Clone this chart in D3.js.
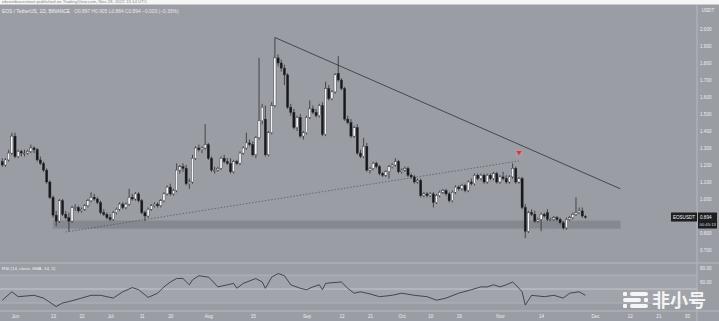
<!DOCTYPE html>
<html>
<head>
<meta charset="utf-8">
<script src="https://cdn.jsdelivr.net/npm/d3@7"></script>
<style>
  html, body { margin: 0; padding: 0; background: #9b9da5; }
  svg { display: block; font-family: "Liberation Sans", Arial, sans-serif; }
</style>
</head>
<body>
<svg id="chart" width="719" height="321"></svg>
<script>
// daily candles EOS/USDT, first day 2022-05-28
const startDay = "2022-05-28";
const opens = [
  1.22, 1.20, 1.23, 1.27,
  1.37, 1.25, 1.28, 1.27, 1.27, 1.28, 1.30, 1.29, 1.23, 1.21, 1.17, 1.10, 1.01, 0.905, 0.87, 0.99, 0.91, 0.89, 0.87, 0.95, 0.95, 0.93, 0.94, 0.96, 0.99, 1.01, 1.00, 0.98, 0.92, 0.91,
  0.89, 0.88, 0.92, 0.94, 0.97, 0.95, 0.97, 1.01, 1.00, 1.03, 0.99, 0.92, 0.90, 0.94, 0.96, 0.97, 0.96, 0.99, 1.03, 1.07, 1.03, 1.05, 1.17, 1.19, 1.18, 1.09, 1.10, 1.24, 1.30, 1.29, 1.30,
  1.32, 1.24, 1.17, 1.17, 1.18, 1.24, 1.22, 1.21, 1.16, 1.22, 1.21, 1.27, 1.30, 1.33, 1.32, 1.26, 1.36, 1.46, 1.47, 1.26, 1.39, 1.55, 1.83, 1.80, 1.77, 1.73, 1.54, 1.51, 1.42, 1.48, 1.37,
  1.39, 1.48, 1.53, 1.51, 1.49, 1.55, 1.38, 1.65, 1.59, 1.63, 1.74, 1.70, 1.65, 1.47, 1.45, 1.37, 1.42, 1.27, 1.25, 1.31, 1.17, 1.18, 1.21, 1.19, 1.15, 1.14, 1.16, 1.19, 1.20, 1.22,
  1.16, 1.17, 1.18, 1.14, 1.13, 1.10, 1.11, 1.02, 1.03, 1.02, 1.03, 0.98, 1.02, 1.04, 1.05, 1.03, 0.99, 1.04, 1.07, 1.06, 1.08, 1.05, 1.10, 1.09, 1.14, 1.12, 1.14, 1.10, 1.14, 1.12, 1.15,
  1.10, 1.13, 1.12, 1.10, 1.13, 1.18, 1.10, 1.12, 0.95, 0.81, 0.92, 0.91, 0.87, 0.88, 0.91, 0.92, 0.88, 0.88, 0.89, 0.88, 0.86, 0.83, 0.88, 0.89, 0.91, 0.92, 0.93, 0.897
];
const highs = [
  1.24, 1.24, 1.29, 1.39,
  1.39, 1.29, 1.29, 1.29, 1.29, 1.32, 1.31, 1.30, 1.25, 1.22, 1.18, 1.11, 1.02, 0.93, 1.00, 1.00, 0.93, 0.92, 0.96, 0.97, 0.96, 0.95, 0.97, 1.00, 1.04, 1.03, 1.01, 0.99, 0.94, 0.92,
  0.91, 0.93, 0.95, 0.98, 0.98, 0.98, 1.06, 1.03, 1.04, 1.04, 1.00, 0.93, 0.95, 0.97, 0.98, 0.98, 1.00, 1.04, 1.08, 1.09, 1.06, 1.21, 1.20, 1.21, 1.20, 1.12, 1.26, 1.31, 1.32, 1.31, 1.44,
  1.33, 1.25, 1.19, 1.19, 1.25, 1.26, 1.24, 1.24, 1.23, 1.23, 1.28, 1.31, 1.39, 1.35, 1.34, 1.37, 1.83, 1.56, 1.55, 1.40, 1.57, 1.95, 1.85, 1.82, 1.79, 1.74, 1.56, 1.53, 1.49, 1.50, 1.40,
  1.49, 1.58, 1.55, 1.53, 1.56, 1.57, 1.69, 1.67, 1.64, 1.74, 1.84, 1.71, 1.66, 1.49, 1.47, 1.43, 1.44, 1.29, 1.36, 1.33, 1.19, 1.22, 1.22, 1.20, 1.16, 1.17, 1.20, 1.21, 1.24, 1.23,
  1.18, 1.19, 1.19, 1.15, 1.14, 1.12, 1.12, 1.04, 1.04, 1.04, 1.04, 1.03, 1.05, 1.06, 1.06, 1.04, 1.05, 1.08, 1.08, 1.09, 1.09, 1.11, 1.12, 1.15, 1.15, 1.15, 1.15, 1.15, 1.15, 1.16, 1.16,
  1.14, 1.16, 1.14, 1.14, 1.21, 1.19, 1.13, 1.13, 0.97, 0.93, 0.94, 0.93, 0.89, 0.92, 0.92, 0.94, 0.89, 0.90, 0.90, 0.89, 0.87, 0.89, 0.90, 0.92, 1.01, 0.95, 0.95, 0.905
];
const lows = [
  1.19, 1.19, 1.22, 1.26,
  1.24, 1.24, 1.25, 1.25, 1.26, 1.27, 1.27, 1.22, 1.20, 1.16, 1.09, 1.00, 0.89, 0.84, 0.86, 0.90, 0.88, 0.81, 0.86, 0.93, 0.92, 0.92, 0.93, 0.95, 0.98, 0.99, 0.97, 0.91, 0.90, 0.88,
  0.87, 0.87, 0.91, 0.93, 0.94, 0.94, 0.96, 0.99, 0.99, 0.98, 0.91, 0.87, 0.89, 0.93, 0.95, 0.95, 0.95, 0.98, 1.02, 1.02, 1.02, 1.04, 1.15, 1.16, 1.08, 1.06, 1.09, 1.23, 1.28, 1.27, 1.29,
  1.23, 1.16, 1.15, 1.16, 1.17, 1.21, 1.20, 1.15, 1.15, 1.20, 1.20, 1.26, 1.29, 1.31, 1.25, 1.24, 1.35, 1.44, 1.25, 1.25, 1.38, 1.54, 1.78, 1.75, 1.67, 1.53, 1.49, 1.41, 1.40, 1.36, 1.35,
  1.38, 1.47, 1.50, 1.48, 1.48, 1.37, 1.37, 1.58, 1.58, 1.62, 1.69, 1.64, 1.46, 1.44, 1.36, 1.36, 1.26, 1.24, 1.24, 1.16, 1.15, 1.17, 1.18, 1.14, 1.13, 1.13, 1.12, 1.18, 1.19, 1.15,
  1.15, 1.16, 1.13, 1.12, 1.09, 1.09, 1.01, 1.01, 1.01, 1.01, 0.95, 0.97, 1.01, 1.03, 1.02, 0.98, 0.98, 1.03, 1.05, 1.05, 1.04, 1.04, 1.08, 1.08, 1.11, 1.11, 1.09, 1.09, 1.11, 1.11, 1.09,
  1.09, 1.11, 1.09, 1.09, 1.12, 1.09, 1.09, 0.94, 0.77, 0.80, 0.90, 0.86, 0.86, 0.81, 0.89, 0.87, 0.87, 0.87, 0.87, 0.85, 0.82, 0.82, 0.87, 0.88, 0.90, 0.91, 0.89, 0.884
];
const closes = [
  1.20, 1.23, 1.27, 1.37,
  1.25, 1.28, 1.27, 1.27, 1.28, 1.30, 1.29, 1.23, 1.21, 1.17, 1.10, 1.01, 0.905, 0.87, 0.99, 0.91, 0.89, 0.87, 0.95, 0.95, 0.93, 0.94, 0.96, 0.99, 1.01, 1.00, 0.98, 0.92, 0.91, 0.89,
  0.88, 0.92, 0.94, 0.97, 0.95, 0.97, 1.01, 1.00, 1.03, 0.99, 0.92, 0.90, 0.94, 0.96, 0.97, 0.96, 0.99, 1.03, 1.07, 1.03, 1.05, 1.17, 1.19, 1.18, 1.09, 1.10, 1.24, 1.30, 1.29, 1.30, 1.32,
  1.24, 1.17, 1.17, 1.18, 1.24, 1.22, 1.21, 1.16, 1.22, 1.21, 1.27, 1.30, 1.33, 1.32, 1.26, 1.36, 1.46, 1.54, 1.26, 1.39, 1.55, 1.83, 1.80, 1.77, 1.73, 1.54, 1.51, 1.42, 1.48, 1.37, 1.39,
  1.48, 1.53, 1.51, 1.49, 1.55, 1.38, 1.65, 1.59, 1.63, 1.73, 1.70, 1.65, 1.47, 1.45, 1.37, 1.42, 1.27, 1.25, 1.31, 1.17, 1.18, 1.21, 1.19, 1.15, 1.14, 1.16, 1.19, 1.20, 1.22, 1.16,
  1.17, 1.18, 1.14, 1.13, 1.10, 1.11, 1.02, 1.03, 1.02, 1.03, 0.98, 1.02, 1.04, 1.05, 1.03, 0.99, 1.04, 1.07, 1.06, 1.08, 1.05, 1.10, 1.09, 1.14, 1.12, 1.14, 1.10, 1.14, 1.12, 1.15, 1.10,
  1.13, 1.12, 1.10, 1.13, 1.18, 1.10, 1.12, 0.95, 0.81, 0.92, 0.91, 0.87, 0.88, 0.91, 0.90, 0.88, 0.88, 0.89, 0.88, 0.86, 0.83, 0.88, 0.89, 0.91, 0.92, 0.93, 0.90, 0.894
];

// RSI(14)
const rsiDates = [
  "2022-05-28", "2022-05-31", "2022-06-02", "2022-06-07", "2022-06-10", "2022-06-14", "2022-06-16", "2022-06-18",
  "2022-06-22", "2022-06-25", "2022-06-28", "2022-07-02", "2022-07-05", "2022-07-08", "2022-07-10", "2022-07-13",
  "2022-07-16", "2022-07-18", "2022-07-20", "2022-07-22", "2022-07-24", "2022-07-26", "2022-07-27", "2022-07-29",
  "2022-08-01", "2022-08-02", "2022-08-04", "2022-08-07", "2022-08-09", "2022-08-10", "2022-08-12", "2022-08-16",
  "2022-08-18", "2022-08-19", "2022-08-21", "2022-08-23", "2022-08-25", "2022-08-27", "2022-08-30", "2022-09-01",
  "2022-09-03", "2022-09-05", "2022-09-06", "2022-09-07", "2022-09-09", "2022-09-12", "2022-09-14", "2022-09-16",
  "2022-09-18", "2022-09-21", "2022-09-24", "2022-09-28", "2022-10-01", "2022-10-05", "2022-10-09", "2022-10-12",
  "2022-10-15", "2022-10-19", "2022-10-23", "2022-10-26", "2022-10-28", "2022-10-30", "2022-11-01", "2022-11-03",
  "2022-11-05", "2022-11-06", "2022-11-08", "2022-11-09", "2022-11-10", "2022-11-11", "2022-11-15", "2022-11-18",
  "2022-11-21", "2022-11-23", "2022-11-26", "2022-11-28"
];
const rsiValues = [
  34, 46, 39, 41, 37, 25, 30, 32,
  37, 41, 41, 37, 46, 52, 49, 38,
  44, 53, 60, 65, 65, 56, 63, 69,
  67, 63, 53, 56, 58, 51, 58, 65,
  60, 51, 67, 72, 69, 56, 51, 49,
  53, 56, 49, 58, 59, 60, 51, 44,
  46, 43, 39, 41, 44, 41, 39, 34,
  37, 44, 49, 53, 53, 56, 53, 56,
  60, 56, 46, 27, 34, 41, 39, 41,
  37, 44, 46, 41
];

const priceTicks = [2.0, 1.9, 1.8, 1.7, 1.6, 1.5, 1.4, 1.3, 1.2, 1.1, 1.0, 0.9, 0.8, 0.7];
const rsiTicks = [80, 60];
const timeTicks = [
  "2022-06-01", "2022-06-13", "2022-06-22", "2022-07-01", "2022-07-11", "2022-07-20",
  "2022-08-01", "2022-08-15", "2022-09-01", "2022-09-12", "2022-09-21", "2022-10-01",
  "2022-10-10", "2022-10-19", "2022-11-01", "2022-11-14", "2022-12-01", "2022-12-12",
  "2022-12-21", "2022-12-30"
];

// drawings on the chart
const resistanceLine = [["2022-08-22", 1.95], ["2022-12-09", 1.06]];
const supportTrend = [["2022-06-17", 0.806], ["2022-11-07", 1.224]];
const supportZone = { from: "2022-06-13", to: "2022-12-09", low: 0.825, high: 0.872 };
const signal = ["2022-11-07", 1.27];

const legendText = "EOS / TetherUS, 1D, BINANCE";
const ohlcText = "O0.897  H0.905  L0.884  C0.894  \u22120.003 (\u22120.33%)";
const lastPrice = 0.894;

const parse = d3.utcParse("%Y-%m-%d");
const W = 719, H = 321;
const axisX = 697;
const mainTop = 5, mainBottom = 263, rsiBottom = 311;

const svg = d3.select("#chart");

const x = d3.scaleUtc()
    .domain([parse("2022-06-01"), parse("2022-12-01")])
    .range([15, 595]);
const y = d3.scaleLinear().domain([0.7, 2.0]).range([250, 29]);
const yRsi = d3.scaleLinear().domain([20, 80]).range([310, 268]);

const candles = opens.map((o, i) => ({
    date: d3.utcDay.offset(parse(startDay), i),
    o: o, h: highs[i], l: lows[i], c: closes[i]
}));

svg.append("rect").attr("width", W).attr("height", H).attr("fill", "#9b9da5");

// clip for main pane
const defs = svg.append("defs");
defs.append("clipPath").attr("id", "mainClip")
    .append("rect").attr("x", 0).attr("y", mainTop).attr("width", axisX).attr("height", mainBottom - mainTop);
defs.append("clipPath").attr("id", "rsiClip")
    .append("rect").attr("x", 0).attr("y", mainBottom).attr("width", axisX).attr("height", rsiBottom - mainBottom);

const main = svg.append("g").attr("clip-path", "url(#mainClip)");

// support zone
main.append("rect")
    .attr("x", x(parse(supportZone.from)))
    .attr("y", y(supportZone.high))
    .attr("width", x(parse(supportZone.to)) - x(parse(supportZone.from)))
    .attr("height", y(supportZone.low) - y(supportZone.high))
    .attr("fill", "#7f8188")
    .attr("fill-opacity", 0.75)
    .attr("stroke", "#8e9097")
    .attr("stroke-width", 0.6);

// ascending dotted line
main.append("line")
    .attr("x1", x(parse(supportTrend[0][0]))).attr("y1", y(supportTrend[0][1]))
    .attr("x2", x(parse(supportTrend[1][0]))).attr("y2", y(supportTrend[1][1]))
    .attr("stroke", "#4a4b52").attr("stroke-width", 0.7)
    .attr("stroke-dasharray", "1.4,1.8");

// descending resistance
main.append("line")
    .attr("x1", x(parse(resistanceLine[0][0]))).attr("y1", y(resistanceLine[0][1]))
    .attr("x2", x(parse(resistanceLine[1][0]))).attr("y2", y(resistanceLine[1][1]))
    .attr("stroke", "#3c3d44").attr("stroke-width", 0.9);

// candles
const bw = 2.2;
const cg = main.append("g");
cg.selectAll("line.wick")
    .data(candles)
    .enter()
    .append("line")
    .attr("class", "wick")
    .attr("x1", (d) => x(d.date)).attr("x2", (d) => x(d.date))
    .attr("y1", (d) => y(d.h)).attr("y2", (d) => y(d.l))
    .attr("stroke", "#1e1f24").attr("stroke-width", 0.7);
cg.selectAll("rect.body")
    .data(candles)
    .enter()
    .append("rect")
    .attr("class", "body")
    .attr("x", (d) => x(d.date) - bw / 2)
    .attr("y", (d) => y(Math.max(d.o, d.c)))
    .attr("width", bw)
    .attr("height", (d) => Math.max(0.8, Math.abs(y(d.o) - y(d.c))))
    .attr("fill", (d) => (d.c >= d.o ? "#f4f4f6" : "#16171b"))
    .attr("stroke", "#2a2b30")
    .attr("stroke-width", 0.4);

// signal arrow
const sx = x(parse(signal[0])), sy = y(signal[1]);
main.append("circle").attr("cx", sx).attr("cy", sy).attr("r", 4.5)
    .attr("fill", "#b99aa0").attr("fill-opacity", 0.45);
main.append("path")
    .attr("d", `M${sx - 2.6},${sy - 2} L${sx + 2.6},${sy - 2} L${sx},${sy + 2.2} Z`)
    .attr("fill", "#e0303a");

// RSI pane
const rsi = svg.append("g").attr("clip-path", "url(#rsiClip)");
rsi.append("rect")
    .attr("x", 0).attr("y", yRsi(70)).attr("width", axisX).attr("height", yRsi(30) - yRsi(70))
    .attr("fill", "#a2a4ab");
[70, 30].forEach((v) => {
    rsi.append("line").attr("x1", 0).attr("x2", axisX).attr("y1", yRsi(v)).attr("y2", yRsi(v))
        .attr("stroke", "#b9bbc1").attr("stroke-width", 0.7);
});
rsi.append("line").attr("x1", 0).attr("x2", axisX).attr("y1", yRsi(50)).attr("y2", yRsi(50))
    .attr("stroke", "#c9cbd0").attr("stroke-width", 0.9);

const rsiLine = d3.line()
    .x((d) => x(d[0]))
    .y((d) => yRsi(d[1]));
rsi.append("path")
    .datum(rsiDates.map((d, i) => [parse(d), rsiValues[i]]))
    .attr("d", rsiLine)
    .attr("fill", "none")
    .attr("stroke", "#3a3b42")
    .attr("stroke-width", 0.9);

// pane separators
svg.append("line").attr("x1", 0).attr("x2", W).attr("y1", mainBottom).attr("y2", mainBottom)
    .attr("stroke", "#b6b8be").attr("stroke-width", 1);
svg.append("line").attr("x1", 0).attr("x2", W).attr("y1", rsiBottom).attr("y2", rsiBottom)
    .attr("stroke", "#b6b8be").attr("stroke-width", 1);
svg.append("line").attr("x1", axisX).attr("x2", axisX).attr("y1", mainTop).attr("y2", H)
    .attr("stroke", "#b6b8be").attr("stroke-width", 1);

// price axis
const priceAxis = d3.axisRight(y).tickValues(priceTicks).tickFormat(d3.format(".3f")).tickSize(0).tickPadding(3);
const pa = svg.append("g").attr("transform", `translate(${axisX},0)`).call(priceAxis);
pa.select(".domain").remove();
pa.selectAll("text").attr("fill", "#eceef2").style("font-size", "4.6px");
svg.append("text").attr("x", 708).attr("y", 11.5).attr("text-anchor", "middle")
    .attr("fill", "#eceef2").style("font-size", "4.6px").text("USDT");

// RSI axis
const rsiAxis = d3.axisRight(yRsi).tickValues(rsiTicks).tickFormat(d3.format(".2f")).tickSize(0).tickPadding(3);
const ra = svg.append("g").attr("transform", `translate(${axisX},0)`).call(rsiAxis);
ra.select(".domain").remove();
ra.selectAll("text").attr("fill", "#eceef2").style("font-size", "4.6px");

// time axis
const fmtTick = (d) => (d.getUTCDate() === 1 ? d3.utcFormat("%b")(d) : d3.utcFormat("%-d")(d));
const timeAxis = d3.axisBottom(x).tickValues(timeTicks.map(parse)).tickFormat(fmtTick).tickSize(0).tickPadding(3.5);
const ta = svg.append("g").attr("transform", `translate(0,${rsiBottom})`).call(timeAxis);
ta.select(".domain").remove();
ta.selectAll("text").attr("fill", "#eceef2").style("font-size", "4.6px");

// last price tags
const ly = y(lastPrice);
svg.append("rect").attr("x", 671).attr("y", ly - 4.5).attr("width", 26).attr("height", 9).attr("fill", "#1d1e22");
svg.append("text").attr("x", 684).attr("y", ly + 1.7).attr("text-anchor", "middle")
    .attr("fill", "#f2f2f2").style("font-size", "4.6px").text("EOSUSDT");
svg.append("rect").attr("x", axisX + 1).attr("y", ly - 4.5).attr("width", 19).attr("height", 16).attr("fill", "#1d1e22");
svg.append("text").attr("x", axisX + 3).attr("y", ly + 1.7)
    .attr("fill", "#f2f2f2").style("font-size", "4.6px").text(d3.format(".3f")(lastPrice));
svg.append("text").attr("x", axisX + 2.5).attr("y", ly + 8.5)
    .attr("fill", "#d8d8d8").style("font-size", "4.2px").text("00:45:13");

// header strip
svg.append("rect").attr("x", 0).attr("y", 0).attr("width", W).attr("height", 4.5).attr("fill", "#f5f5f5");
svg.append("text").attr("x", 2).attr("y", 3.2).attr("fill", "#8a8a8a").style("font-size", "4.4px")
    .text("ebcoinbasesmart published on TradingView.com, Nov 28, 2022 13:14 UTC");

// legend
const leg = svg.append("text").attr("x", 2).attr("y", 12.5).style("font-size", "4.9px").attr("fill", "#f2f2f4");
leg.append("tspan").text(legendText);
leg.append("tspan").attr("dx", 4).attr("fill", "#e6e6ea").text(ohlcText);

svg.append("text").attr("x", 2).attr("y", 269.5).style("font-size", "4.4px").attr("fill", "#f2f2f4")
    .text("RSI (14, close, SMA, 14, 2)");

// watermark
const wm = svg.append("g").attr("fill", "#ffffff").attr("fill-opacity", 0.9);
[[0, 0], [0, 6], [0, 12]].forEach((p, i) => {
    const gx = 623 + p[0], gy = 292 + p[1];
    if (i === 1) {
        wm.append("rect").attr("x", gx).attr("y", gy).attr("width", 18).attr("height", 4).attr("rx", 2);
        wm.append("rect").attr("x", gx + 21).attr("y", gy).attr("width", 4).attr("height", 4).attr("rx", 1);
    } else {
        wm.append("rect").attr("x", gx).attr("y", gy).attr("width", 4).attr("height", 4).attr("rx", 1);
        wm.append("rect").attr("x", gx + 7).attr("y", gy).attr("width", 18).attr("height", 4).attr("rx", 2);
    }
});
wm.append("text").attr("x", 652).attr("y", 306.5)
    .style("font-family", "'Noto Sans CJK SC', sans-serif").style("font-size", "18px").style("font-weight", "bold")
    .text("非小号");
</script>
</body>
</html>
